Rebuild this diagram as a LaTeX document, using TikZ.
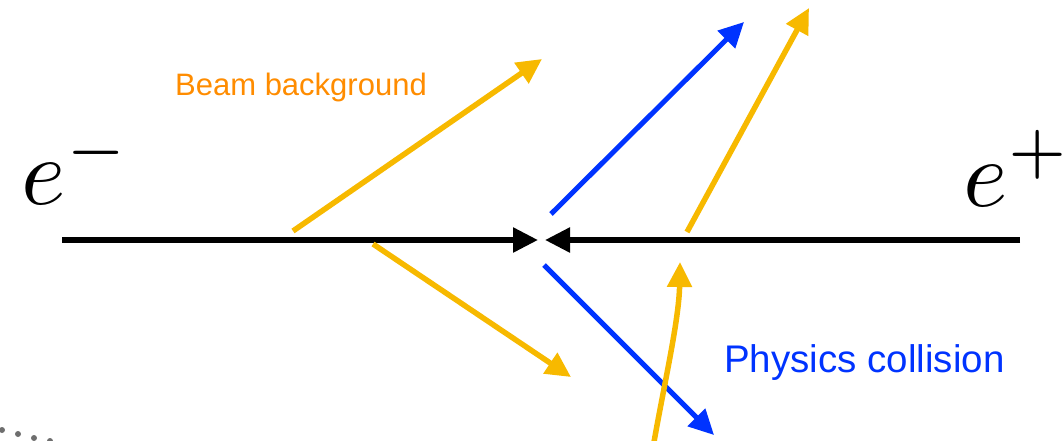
\documentclass[tikz,border=0pt]{standalone}
\usepackage{fontspec}
\newfontfamily\labelfont{Liberation Sans}
\usetikzlibrary{arrows.meta}
\definecolor{beamyellow}{RGB}{247,185,0}
\definecolor{beamorange}{RGB}{255,140,0}
\definecolor{physblue}{RGB}{0,51,255}
\definecolor{dotgray}{RGB}{110,110,110}
\begin{document}
\begin{tikzpicture}[x=1pt,y=-1pt,
  beamline/.style={line width=5.5pt,black,-{Triangle[length=25pt,width=24pt]}},
  bgarrow/.style={line width=5.5pt,beamyellow,-{Triangle[length=25pt,width=24pt]}},
  physarrow/.style={line width=5pt,physblue,-{Triangle[length=25pt,width=24pt]}},
  particle/.style={inner sep=0pt,scale=9.5},
  bglabel/.style={inner sep=0pt,anchor=base west,text=beamorange,font=\labelfont\fontsize{31pt}{36pt}\selectfont},
  physlabel/.style={inner sep=0pt,anchor=base west,text=physblue,font=\labelfont\fontsize{38.5pt}{44pt}\selectfont},
  smalldot/.style={fill=dotgray,draw=none}]
\useasboundingbox (0,0) rectangle (1064,440);
% beam lines
\coordinate (Lstart) at (62,240);
\coordinate (Ltip) at (538,240);
\coordinate (Rstart) at (1020,240);
\coordinate (Rtip) at (545,240);
\draw[beamline] (Lstart) -- (Ltip);
\draw[beamline] (Rstart) -- (Rtip);
% particle labels
\node[particle,anchor=base west] (em) at (20,204) {$e^-$};
\node[particle,anchor=base east] (ep) at (1063,206) {\scriptspace=0pt$e^+\mkern-1mu$};
% physics collision arrows
\coordinate (B1s) at (551,214);
\coordinate (B1t) at (744,22);
\coordinate (B2s) at (544,265);
\coordinate (B2t) at (714,435);
\draw[physarrow] (B1s) -- (B1t);
\draw[physarrow] (B2s) -- (B2t);
% beam background arrows
\coordinate (Y1s) at (293,231);
\coordinate (Y1t) at (542,59);
\coordinate (Y2s) at (373,244);
\coordinate (Y2t) at (571,377);
\coordinate (Y3s) at (687,232);
\coordinate (Y3t) at (809,8);
\coordinate (Y4s) at (654,442);
\coordinate (Y4t) at (680,262);
\draw[bgarrow] (Y1s) -- (Y1t);
\draw[bgarrow] (Y2s) -- (Y2t);
\draw[bgarrow] (Y3s) -- (Y3t);
\draw[bgarrow] (Y4s) .. controls (664,385) and (679,320) .. (Y4t);
% labels
\node[bglabel] (bgtext) at (175,95) {Beam background};
\node[physlabel] (phtext) at (724,372) {Physics collision};
% faint dots at the bottom left
\fill[smalldot] (2,430) circle (3pt);
\fill[smalldot] (18,434) circle (3pt);
\fill[smalldot] (34,438) circle (3pt);
\fill[smalldot] (50,441) circle (3pt);
\end{tikzpicture}
\end{document}
